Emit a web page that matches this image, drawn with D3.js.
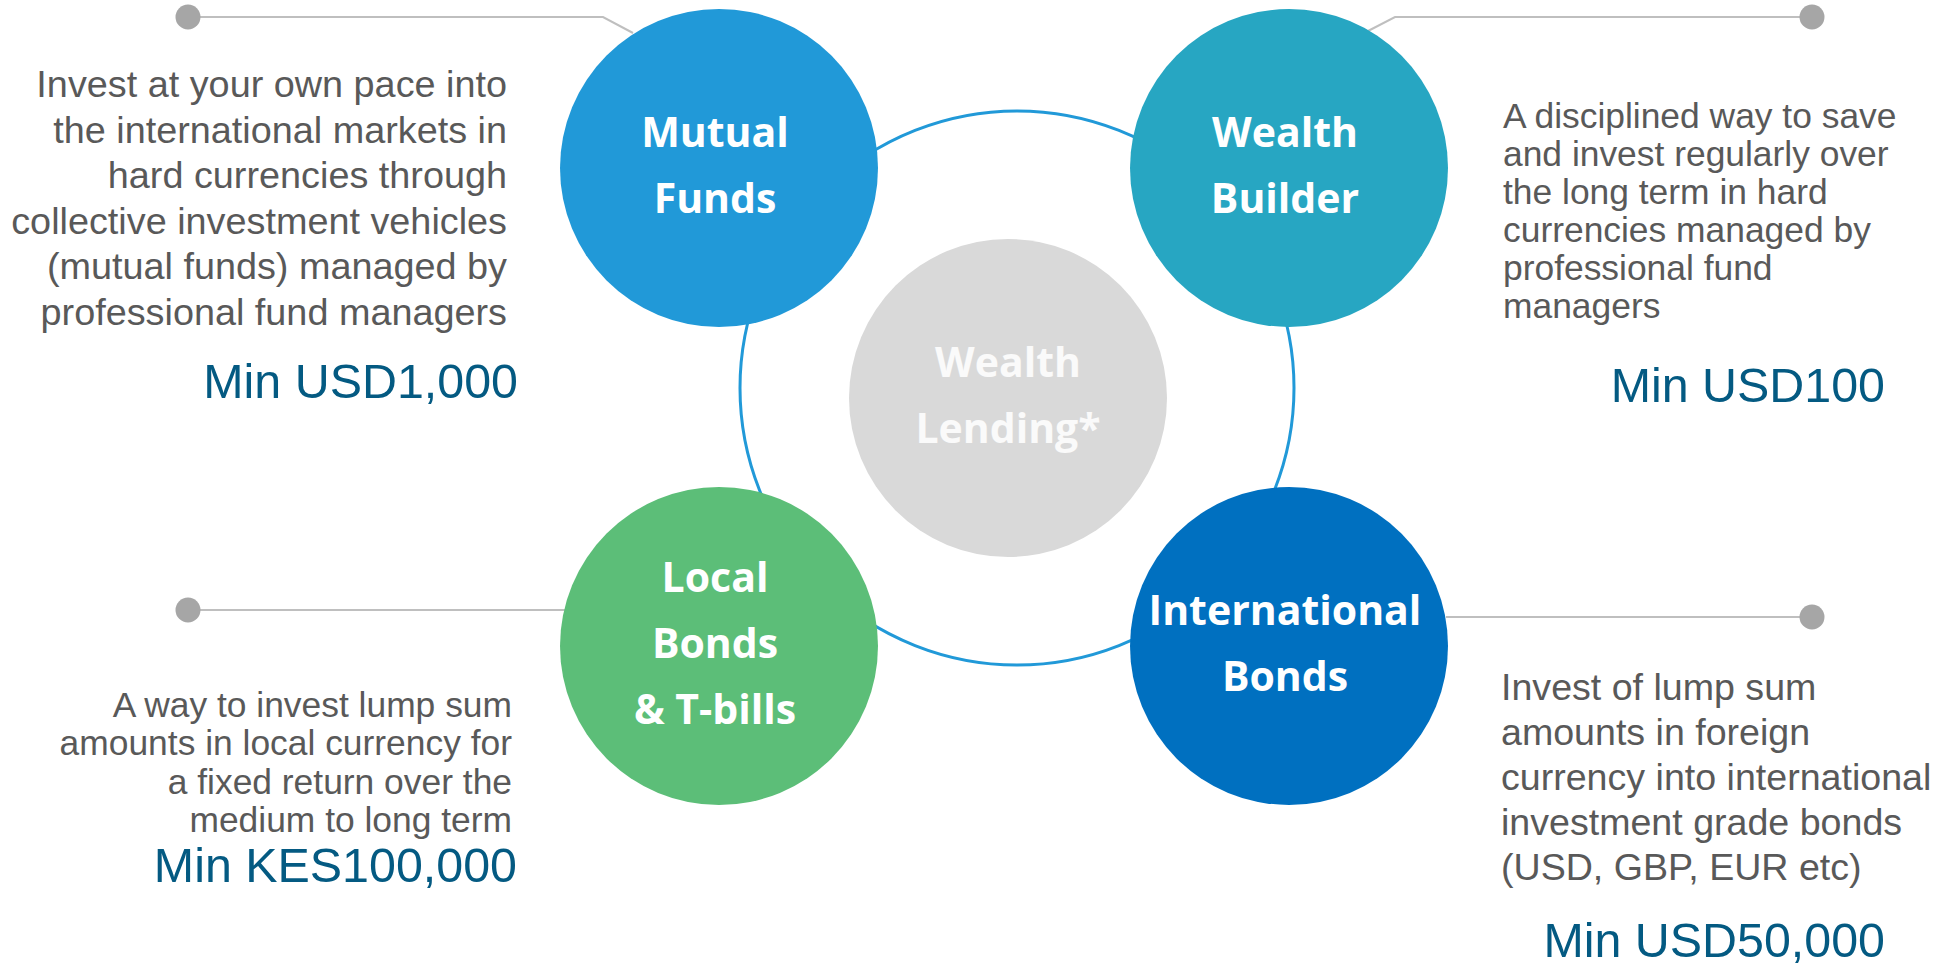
<!DOCTYPE html>
<html>
<head>
<meta charset="utf-8">
<script src="https://cdn.jsdelivr.net/npm/d3@7"></script>
<style>
html,body{margin:0;padding:0;background:#ffffff;}
svg{display:block;}
</style>
</head>
<body>
<svg id="chart" width="1955" height="970"></svg>
<script>
// ---- data ----
const products = ["Mutual Funds", "Wealth Builder", "Local Bonds & T-bills", "International Bonds"];
const productLabels = [["Mutual", "Funds"], ["Wealth", "Builder"], ["Local", "Bonds", "& T-bills"], ["International", "Bonds"]];
const descriptions = [
  ["Invest at your own pace into", "the international markets in", "hard currencies through", "collective investment vehicles", "(mutual funds) managed by", "professional fund managers"],
  ["A disciplined way to save", "and invest regularly over", "the long term in hard", "currencies managed by", "professional fund", "managers"],
  ["A way to invest lump sum", "amounts in local currency for", "a fixed return over the", "medium to long term"],
  ["Invest of lump sum", "amounts in foreign", "currency into international", "investment grade bonds", "(USD, GBP, EUR etc)"]
];
const minimums = ["Min USD1,000", "Min USD100", "Min KES100,000", "Min USD50,000"];
const centerLabel = ["Wealth", "Lending*"];
const columns = ["left", "right", "left", "right"];
const rows = ["top", "top", "bottom", "bottom"];
const palette = ["#2199d8", "#27a6c2", "#5cbe78", "#0070c0"];

// ---- layout (styles / positions) ----
const W = 1955, H = 970;
const svg = d3.select("#chart");
const x = d3.scalePoint().domain(["left", "right"]).range([719, 1289]);
const y = d3.scalePoint().domain(["top", "bottom"]).range([168, 646]);
const color = d3.scaleOrdinal().domain(products).range(palette);
const R = 159;

const descLayout = [
  {x: 507, y0: 97, dy: 45.6, size: 37.8, anchor: "end"},
  {x: 1503, y0: 128, dy: 38, size: 35.4, anchor: "start"},
  {x: 512, y0: 717, dy: 38.3, size: 35.4, anchor: "end"},
  {x: 1501, y0: 700, dy: 45, size: 37.6, anchor: "start"}
];
const minLayout = [
  {x: 518, y: 398}, {x: 1885, y: 402}, {x: 517, y: 882}, {x: 1885, y: 957}
];
const connectors = [
  [[188, 17], [603, 17], [633, 33]],
  [[1812, 17], [1395, 17], [1368, 31]],
  [[188, 610], [566, 610]],
  [[1812, 617], [1446, 617]]
];

// ring
svg.append("circle")
  .attr("cx", 1017).attr("cy", 388).attr("r", 277)
  .attr("fill", "none").attr("stroke", "#2199d8").attr("stroke-width", 3);

// connectors
const line = d3.line();
svg.selectAll("path.conn").data(connectors).join("path")
  .attr("class", "conn")
  .attr("d", d => line(d))
  .attr("fill", "none").attr("stroke", "#bfbfbf").attr("stroke-width", 2);
svg.selectAll("circle.dot").data(connectors).join("circle")
  .attr("class", "dot")
  .attr("cx", d => d[0][0]).attr("cy", d => d[0][1]).attr("r", 12.5)
  .attr("fill", "#a6a6a6");

// centre circle
svg.append("circle")
  .attr("cx", 1008).attr("cy", 398).attr("r", R)
  .attr("fill", "#d9d9d9");
const labelFont = "'Open Sans', 'Noto Sans', sans-serif";
const lineGap = 66;
svg.append("text")
  .attr("text-anchor", "middle")
  .attr("font-family", labelFont).attr("font-weight", 700).attr("font-size", 41)
  .attr("fill", "#fafafa")
  .selectAll("tspan").data(centerLabel).join("tspan")
  .attr("x", 1008)
  .attr("y", (d, i) => 398 - (centerLabel.length - 1) * lineGap / 2 + 12 + i * lineGap)
  .text(d => d);

// product circles
const g = svg.selectAll("g.product").data(products).join("g").attr("class", "product");
g.append("circle")
  .attr("cx", (d, i) => x(columns[i]))
  .attr("cy", (d, i) => y(rows[i]))
  .attr("r", R)
  .attr("fill", d => color(d));
g.append("text")
  .attr("text-anchor", "middle")
  .attr("font-family", labelFont).attr("font-weight", 700).attr("font-size", 41)
  .attr("fill", "#ffffff")
  .each(function(d, i) {
    const lines = productLabels[i];
    d3.select(this).selectAll("tspan").data(lines).join("tspan")
      .attr("x", x(columns[i]) - 4)
      .attr("y", (t, j) => y(rows[i]) - (lines.length - 1) * lineGap / 2 + 12 + j * lineGap)
      .text(t => t);
  });

// descriptions
g.append("text")
  .attr("font-family", "'Liberation Sans', Arial, sans-serif")
  .attr("fill", "#595959")
  .each(function(d, i) {
    const L = descLayout[i];
    d3.select(this)
      .attr("text-anchor", L.anchor)
      .attr("font-size", L.size)
      .selectAll("tspan").data(descriptions[i]).join("tspan")
      .attr("x", L.x)
      .attr("y", (t, j) => L.y0 + j * L.dy)
      .text(t => t);
  });

// minimums
g.append("text")
  .attr("font-family", "'Liberation Sans', Arial, sans-serif")
  .attr("font-size", 48.4)
  .attr("fill", "#045a82")
  .attr("text-anchor", "end")
  .attr("x", (d, i) => minLayout[i].x)
  .attr("y", (d, i) => minLayout[i].y)
  .text((d, i) => minimums[i]);
</script>
</body>
</html>
